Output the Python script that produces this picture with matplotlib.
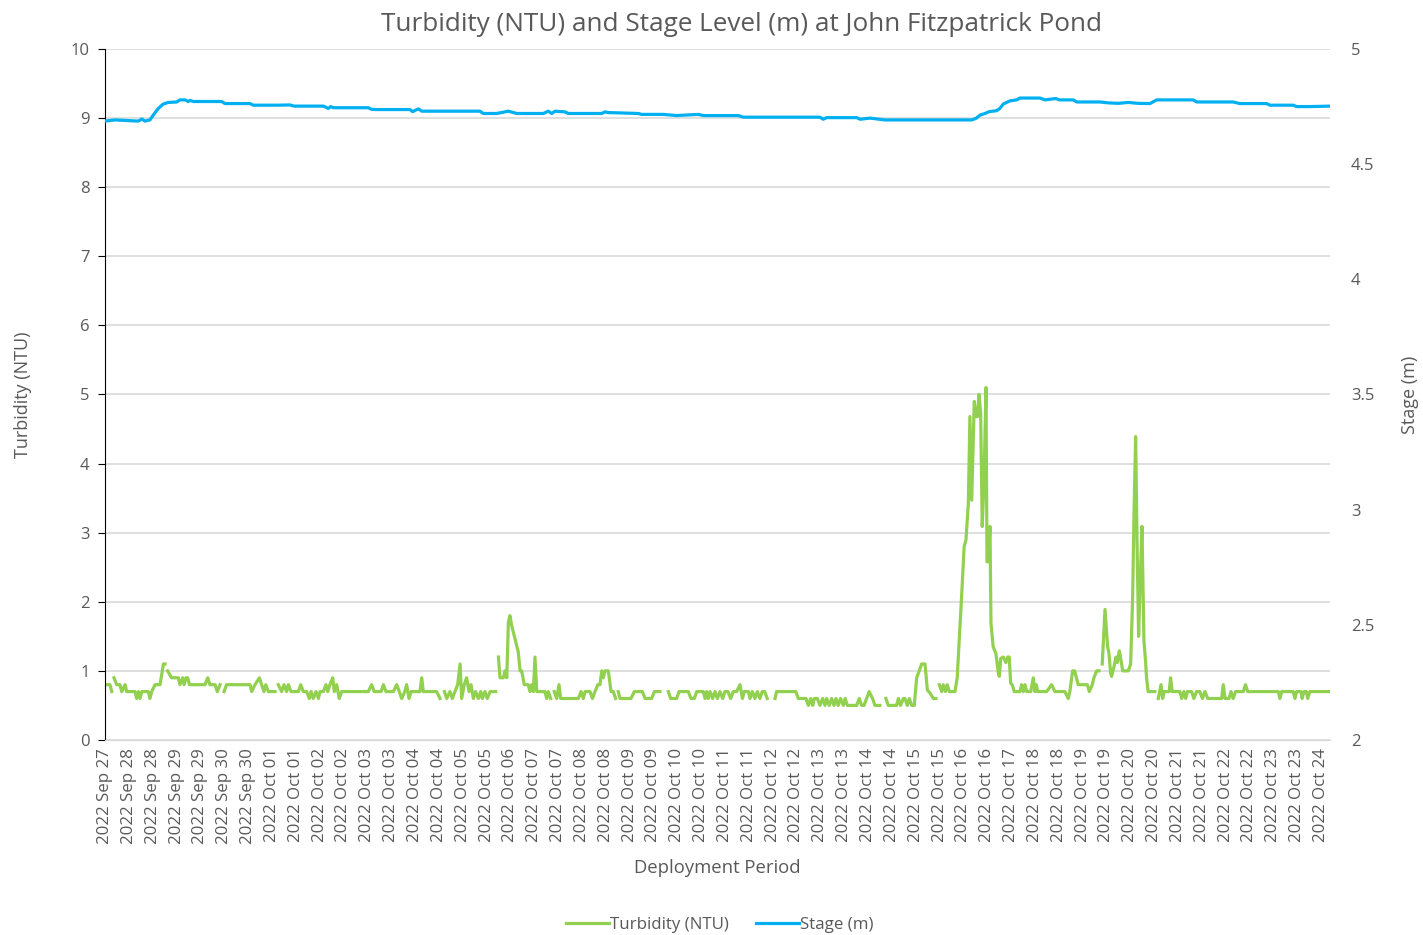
import numpy as np
import matplotlib
matplotlib.use('Agg')
import matplotlib.pyplot as plt
from matplotlib.lines import Line2D

nan = np.nan

# x tick labels (one label every 12 hourly records, Excel category axis)
tick_labels = ['2022 Sep 27', '2022 Sep 28', '2022 Sep 28', '2022 Sep 29', '2022 Sep 29',
               '2022 Sep 30', '2022 Sep 30', '2022 Oct 01', '2022 Oct 01', '2022 Oct 02',
               '2022 Oct 02', '2022 Oct 03', '2022 Oct 03', '2022 Oct 04', '2022 Oct 04',
               '2022 Oct 05', '2022 Oct 05', '2022 Oct 06', '2022 Oct 07', '2022 Oct 07',
               '2022 Oct 08', '2022 Oct 08', '2022 Oct 09', '2022 Oct 09', '2022 Oct 10',
               '2022 Oct 10', '2022 Oct 11', '2022 Oct 11', '2022 Oct 12', '2022 Oct 12',
               '2022 Oct 13', '2022 Oct 13', '2022 Oct 14', '2022 Oct 14', '2022 Oct 15',
               '2022 Oct 15', '2022 Oct 16', '2022 Oct 16', '2022 Oct 17', '2022 Oct 18',
               '2022 Oct 18', '2022 Oct 19', '2022 Oct 19', '2022 Oct 20', '2022 Oct 20',
               '2022 Oct 21', '2022 Oct 21', '2022 Oct 22', '2022 Oct 22', '2022 Oct 23',
               '2022 Oct 23', '2022 Oct 24']
records_per_label = 12
n_records = 616.5

# turbidity (NTU): record index, value (nan = missing record)
turb_t = [0, 2.5, 3.4, 3.9, 4.5, 5.9, 7.5, 8.4, 10.1, 10.9, 15.1, 15.9, 16.8, 17.6, 18.5, 21.8,
          22.6, 23.5, 25.2, 27.7, 29.4, 30.2, 30.9, 31.5, 33.5, 36.9, 37.7, 39.1, 39.8, 40.8,
          41.6, 42.5, 50.3, 51.7, 52.8, 55.4, 56.5, 57.9, 59, 59.9, 61.2, 73.0, 73.8, 75.5,
          77.7, 78.8, 80.0, 80.9, 82.2, 85.6, 86.4, 87.2, 88.9, 90.1, 91.4, 92.3, 93.6, 97.3,
          98.5, 99.8, 101.5, 102.8, 103.7, 104.8, 106.2, 107.4, 108.2, 109.9, 111.2, 112.1,
          113.2, 114.6, 115.4, 116.6, 117.9, 119.1, 132.5, 134.2, 135.5, 138.9, 140.1, 141.4,
          145.1, 146.8, 148.1, 149.3, 150.9, 151.8, 153.0, 154.0, 158.5, 159.4, 160.2, 166.9,
          168.6, 169.5, 170.8, 172, 173.6, 174.8, 176.1, 177.5, 178.7, 179.5, 180.8, 182,
          183.2, 184.2, 185.4, 186.5, 187.9, 189.1, 189.9, 191.2, 192.4, 193.8, 196.6, 197.3,
          198, 198.8, 200.5, 201.3, 202.2, 203, 203.8, 204.7, 206.3, 208, 208.9, 209.7, 211,
          213, 213.9, 214.7, 215.6, 216.4, 217.3, 221.4, 222.3, 223.1, 224.3, 225.2, 226.1,
          227.3, 228.5, 229.3, 238.2, 239.6, 240.7, 241.6, 244.1, 245.3, 246.6, 248, 249.1,
          250, 250.8, 251.6, 253.3, 254.7, 255.8, 257, 257.6, 258.3, 259.2, 264.7, 266.4,
          270.4, 271.8, 275.1, 276.5, 279.3, 281, 283.5, 284.7, 287.7, 288.9, 293.6, 294.9,
          296.6, 297.8, 301.1, 302, 302.8, 303.6, 304.5, 305.8, 307, 308.2, 309.5, 310.9, 312,
          313.5, 314.9, 316.2, 317.9, 319.6, 320.8, 321.7, 323.8, 324.6, 325.8, 327.1, 328.3,
          329.6, 330.8, 332, 333.3, 335, 337.2, 338, 347.7, 348.9, 351.4, 352.8, 354, 355.2,
          356.2, 357, 358.5, 359.8, 361.2, 362.4, 363.2, 364.5, 365.7, 366.9, 367.9, 369,
          370.2, 371.6, 372.5, 373.6, 378.3, 379.6, 380.8, 382, 383.3, 384.6, 386.3, 387.5,
          390, 391.5, 393, 394.2, 398.4, 399.3, 400.4, 401.8, 402.6, 403.8, 404.8, 406, 407.3,
          408.5, 409.8, 411, 412.7, 413.9, 415.2, 416.9, 418.2, 419, 419.9, 421.1, 421.9, 423,
          423.9, 424.9, 427.8, 428.9, 431.1, 432.4, 433.3, 434.5, 435.3, 436.2, 437.5, 438.4,
          439.1, 439.9, 440.7, 441.5, 442.4, 443.4, 443.9, 444.6, 445.4, 445.9, 447, 448.4,
          449.6, 450.1, 450.8, 452.1, 453.4, 454.3, 455.1, 455.8, 456.6, 457.6, 460.5, 461.3,
          462.2, 463, 463.9, 465.9, 467.2, 468, 468.7, 469.4, 473.9, 476.4, 478.1, 483.1,
          484.8, 485.6, 487, 488, 489.8, 494.4, 495.4, 496.9, 497.7, 499.1, 500.3, 501.1,
          501.9, 503.3, 504.6, 505.3, 506.1, 506.6, 507.9, 508.8, 509.5, 510.5, 511.3, 512.2,
          515, 516.2, 517.2, 517.9, 518.7, 519.5, 520.2, 521, 521.9, 522.9, 523.7, 524.2, 525,
          528.4, 529.2, 530.1, 531.5, 532.3, 533.1, 535.6, 536.3, 537.1, 541, 541.9, 543,
          543.9, 544.8, 546.9, 548, 549.4, 551, 552.3, 553.6, 555, 562, 562.8, 563.7, 565.7,
          566.7, 567.8, 569, 572.9, 574, 575.1, 590.5, 591.3, 592.2, 598, 598.9, 599.7, 601.9,
          602.5, 603.4, 604.6, 605.3, 606.4, 616.5]
turbidity = [0.8, 0.8, 0.7, nan, 0.9, 0.8, 0.8, 0.7, 0.8, 0.7, 0.7, 0.6, 0.7, 0.6, 0.7, 0.7,
             0.6, 0.7, 0.8, 0.8, 1.1, 1.1, nan, 1.0, 0.9, 0.9, 0.8, 0.9, 0.8, 0.9,
             0.9, 0.8, 0.8, 0.9, 0.8, 0.8, 0.7, 0.8, nan, 0.7, 0.8, 0.8, 0.7, 0.8,
             0.9, 0.8, 0.7, 0.8, 0.7, 0.7, nan, 0.8, 0.7, 0.8, 0.7, 0.8, 0.7, 0.7,
             0.8, 0.7, 0.7, 0.6, 0.7, 0.6, 0.7, 0.6, 0.7, 0.7, 0.8, 0.7,
             0.8, 0.9, 0.7, 0.8, 0.6, 0.7, 0.7, 0.8, 0.7, 0.7, 0.8, 0.7,
             0.7, 0.8, 0.7, 0.6, 0.7, 0.8, 0.6, 0.7, 0.7, 0.9, 0.7, 0.7,
             0.6, nan, 0.7, 0.6, 0.7, 0.6, 0.7, 0.8, 1.1, 0.6, 0.8, 0.9,
             0.7, 0.8, 0.6, 0.7, 0.6, 0.7, 0.6, 0.7, 0.6, 0.7, 0.7, nan,
             1.2, 0.9, 0.9, 1.0, 0.9, 1.7, 1.8, 1.65, 1.47, 1.27, 1.0, 1.0, 0.8,
             0.8, 0.7, 0.8, 0.7, 1.2, 0.7, 0.7, 0.6, 0.7, 0.6, nan, 0.7,
             0.6, 0.8, 0.6, 0.6, 0.7, 0.6, 0.7, 0.7, 0.6, 0.7, 0.8, 0.8,
             1.0, 0.9, 1.0, 1.0, 0.7, 0.7, 0.6, nan, 0.7, 0.6, 0.6, 0.7,
             0.7, 0.6, 0.6, 0.7, 0.7, nan, 0.7, 0.6, 0.6, 0.7, 0.7, 0.6,
             0.6, 0.7, 0.7, 0.6, 0.7, 0.6, 0.7, 0.6, 0.7, 0.6, 0.7, 0.6, 0.7,
             0.7, 0.6, 0.7, 0.7, 0.8, 0.6, 0.7, 0.7, 0.6, 0.7, 0.6, 0.7,
             0.6, 0.7, 0.7, 0.6, nan, 0.6, 0.7, 0.7, 0.6, 0.6, 0.6, 0.5, 0.6,
             0.5, 0.6, 0.6, 0.5, 0.6, 0.5, 0.6, 0.5, 0.6, 0.5, 0.6, 0.5,
             0.6, 0.5, 0.6, 0.5, 0.5, 0.6, 0.5, 0.5, 0.6, 0.7, 0.6, 0.5,
             0.5, nan, 0.6, 0.5, 0.5, 0.6, 0.5, 0.6, 0.6, 0.5, 0.6, 0.5, 0.5,
             0.9, 1.0, 1.1, 1.1, 0.72, 0.68, 0.6, 0.6, nan, 0.8, 0.7, 0.8, 0.7,
             0.8, 0.7, 0.7, 0.9, 2.07, 2.8, 2.89, 3.42, 4.68, 3.47, 4.9, 4.68,
             4.68, 5.0, 4.73, 3.09, 3.76, 5.1, 2.58, 2.58, 3.09, 1.69, 1.35, 1.25,
             0.97, 0.92, 1.18, 1.2, 1.12, 1.2, 1.2, 0.82, 0.8, 0.7, 0.7, 0.8,
             0.7, 0.8, 0.7, 0.7, 0.9, 0.7, 0.8, 0.7, 0.7, 0.8, 0.7, 0.7,
             0.6, 0.7, 1.0, 1.0, 0.8, 0.8, 0.7, 0.8, 0.9, 1.0, 1.0, nan,
             1.1, 1.89, 1.35, 1.25, 0.97, 0.92, 1.07, 1.2, 1.12, 1.29, 1.16, 1.0,
             1.0, 1.1, 2.07, 3.28, 4.39, 2.7, 1.5, 2.3, 3.09, 1.43, 1.14, 0.9, 0.7,
             0.7, nan, 0.6, 0.8, 0.6, 0.7, 0.7, 0.9, 0.7, 0.7, 0.6, 0.7,
             0.6, 0.7, 0.7, 0.6, 0.7, 0.7, 0.6, 0.7, 0.6, 0.6, 0.8, 0.6, 0.6,
             0.7, 0.6, 0.7, 0.7, 0.8, 0.7, 0.7, 0.6, 0.7, 0.7, 0.6, 0.7, 0.7,
             0.6, 0.7, 0.7, 0.6, 0.7, 0.7]

# stage (m): record index, value
stage_t = [0, 5, 16.8, 18.5, 20.1, 22.6, 24.3, 26.8, 29.3, 31.9, 36.1, 37.7, 40.3, 41.9, 42.8,
           44.4, 58.7, 60.4, 73, 74.6, 86.4, 93.1, 95.1, 109.9, 112.4, 113.6, 114.9, 132.5,
           134.2, 136.4, 153.5, 154.8, 157.7, 159.4, 188.7, 190.4, 197.1, 203, 207.2, 220.6,
           223.1, 224.8, 226.5, 231.5, 233.2, 250, 251.6, 253.3, 268.4, 270.1, 281, 287.7,
           298.6, 301.1, 318.7, 321.2, 338, 359.8, 361.5, 363.2, 378.3, 380, 385, 392.5,
           436.2, 438.4, 440.4, 442.9, 445, 448.7, 450.4, 452.1, 455.5, 458.8, 460.5, 470.6,
           473.1, 478.6, 480.3, 487.3, 489.1, 500.8, 505, 510, 515, 520, 525.9, 529.3, 547.7,
           549.4, 567.8, 571.2, 584.6, 586.3, 598, 599.7, 606.4, 616.5]
stage = [4.687, 4.692, 4.687, 4.696, 4.687, 4.692, 4.713, 4.742, 4.761, 4.768, 4.770, 4.779,
         4.779, 4.772, 4.777, 4.772, 4.772, 4.763, 4.763, 4.756, 4.756, 4.757, 4.752, 4.752,
         4.742, 4.750, 4.745, 4.745, 4.738, 4.737, 4.737, 4.728, 4.740, 4.730, 4.730, 4.720,
         4.720, 4.730, 4.720, 4.720, 4.730, 4.720, 4.730, 4.727, 4.720, 4.720, 4.727, 4.724,
         4.720, 4.716, 4.716, 4.711, 4.716, 4.711, 4.711, 4.704, 4.704, 4.704, 4.695, 4.702,
         4.702, 4.695, 4.700, 4.692, 4.692, 4.699, 4.713, 4.720, 4.728, 4.732, 4.742, 4.761,
         4.775, 4.779, 4.787, 4.787, 4.779, 4.785, 4.779, 4.779, 4.770, 4.770, 4.766, 4.764,
         4.768, 4.764, 4.763, 4.779, 4.779, 4.770, 4.770, 4.763, 4.763, 4.756, 4.756, 4.750,
         4.750, 4.752]

grey = '#595959'
plt.rcParams['font.family'] = ['Open Sans', 'DejaVu Sans']

fig = plt.figure(figsize=(14.23, 9.35), dpi=100)
ax = fig.add_axes([0.0738, 0.2086, 0.8608, 0.739])
ax2 = ax.twinx()

ax.plot(turb_t, turbidity, color='#92D050', lw=2.3, solid_joinstyle='round')
ax2.plot(stage_t, stage, color='#00B0F0', lw=2.3, solid_joinstyle='round')

ax.set_xlim(0, n_records)
ax.set_ylim(0, 10)
ax2.set_ylim(2, 5)
ax.set_yticks(range(0, 11))
ax2.set_yticks([2, 2.5, 3, 3.5, 4, 4.5, 5])
ax2.set_yticklabels(['2', '2.5', '3', '3.5', '4', '4.5', '5'])
ax.set_xticks([i * records_per_label for i in range(len(tick_labels))])
ax.set_xticklabels(tick_labels, rotation=90)

ax.grid(axis='y', color='#D9D9D9', lw=1.2)
ax.set_axisbelow(True)
for s in ['top', 'right']:
    ax.spines[s].set_visible(False)
for s in ['top', 'right', 'left', 'bottom']:
    ax2.spines[s].set_visible(False)
ax.spines['bottom'].set_color('#D9D9D9')
ax.spines['left'].set_color('black')
ax.tick_params(axis='x', length=0, labelsize=12.2, labelcolor=grey, pad=6)
ax.tick_params(axis='y', length=5, labelsize=12, labelcolor=grey, pad=6)
ax2.tick_params(axis='y', length=0, labelsize=12, labelcolor=grey, pad=15)

ax.set_ylabel('Turbidity (NTU)', fontsize=13, color=grey, labelpad=28)
ax2.set_ylabel('Stage (m)', fontsize=13, color=grey, labelpad=19)
ax.set_xlabel('Deployment Period', fontsize=13.3, color=grey, labelpad=11)
fig.text(0.521, 0.974, 'Turbidity (NTU) and Stage Level (m) at John Fitzpatrick Pond',
         fontsize=18.8, color=grey, ha='center', va='center')

handles = [Line2D([], [], color='#92D050', lw=2.3), Line2D([], [], color='#00B0F0', lw=2.3)]
fig.legend(handles, ['Turbidity (NTU)', 'Stage (m)'], loc='center', ncol=2,
           frameon=False, fontsize=12.2, labelcolor=grey, handlelength=2.5,
           handletextpad=0.1, columnspacing=1.6, bbox_to_anchor=(0.506, 0.0107))

plt.savefig('out.png', dpi=100)
